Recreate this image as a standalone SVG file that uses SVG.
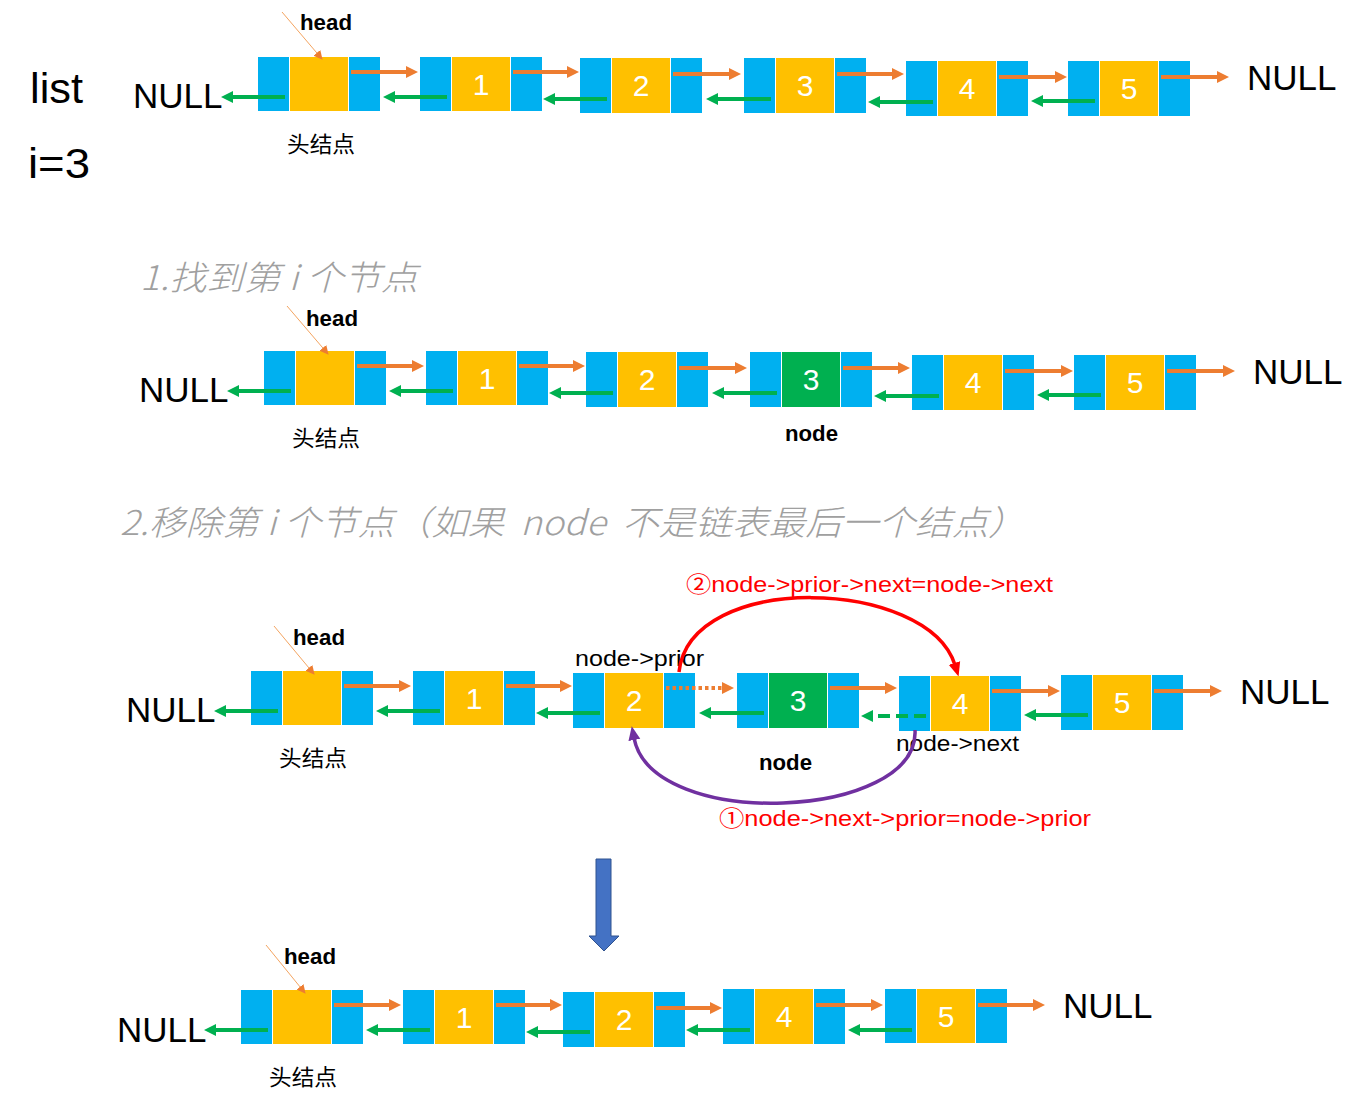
<svg xmlns="http://www.w3.org/2000/svg" width="1364" height="1106" viewBox="0 0 1364 1106">
<style>
.b{fill:#00b0f0}
.y{fill:#ffc000}
.g{fill:#00b050}
.num{font-family:"Liberation Sans","Noto Sans",sans-serif;font-size:30px;fill:#ffffff;text-anchor:middle}
.null{font-family:"Liberation Sans",sans-serif;font-size:35px;fill:#000000}
.big{font-family:"Liberation Sans",sans-serif;font-size:42px;fill:#000000}
.hd{font-family:"Liberation Sans","Noto Sans CJK SC",sans-serif;font-size:22px;font-weight:bold;fill:#000000}
.cn{font-family:"Noto Sans CJK SC",sans-serif;font-size:22px;fill:#000000}
.lbl{font-family:"Liberation Sans","Noto Sans CJK SC",sans-serif;font-size:22px;fill:#000000}
.red{font-family:"Liberation Sans","Noto Sans CJK SC",sans-serif;font-size:22px;fill:#ff0000}
.title{font-family:"Noto Sans CJK SC",sans-serif;font-size:34px;font-style:italic;font-weight:300;fill:#a0a0a0}
.ao{stroke:#ed7d31;stroke-width:4;fill:none;marker-end:url(#mo)}
.ag{stroke:#00b050;stroke-width:4;fill:none;marker-end:url(#mg)}
.hp{stroke:#f4a460;stroke-width:1;fill:none;marker-end:url(#mh)}
</style>
<defs>
<marker id="mo" markerUnits="userSpaceOnUse" markerWidth="12" markerHeight="12" refX="2" refY="6" orient="auto" viewBox="0 0 12 12"><path d="M0,0 L12,6 L0,12 z" fill="#ed7d31"/></marker>
<marker id="mg" markerUnits="userSpaceOnUse" markerWidth="12" markerHeight="12" refX="2" refY="6" orient="auto" viewBox="0 0 12 12"><path d="M0,0 L12,6 L0,12 z" fill="#00b050"/></marker>
<marker id="mh" markerUnits="userSpaceOnUse" markerWidth="9" markerHeight="9" refX="8" refY="4.5" orient="auto" viewBox="0 0 9 9"><path d="M0,0 L9,4.5 L0,9 z" fill="#ed7d31"/></marker>
<marker id="mr" markerUnits="userSpaceOnUse" markerWidth="14" markerHeight="14" refX="2" refY="7" orient="auto" viewBox="0 0 14 14"><path d="M0,1 L14,7 L0,13 z" fill="#ff0000"/></marker>
<marker id="mp" markerUnits="userSpaceOnUse" markerWidth="14" markerHeight="14" refX="2" refY="7" orient="auto" viewBox="0 0 14 14"><path d="M0,1 L14,7 L0,13 z" fill="#7030a0"/></marker>
</defs>
<rect x="0" y="0" width="1364" height="1106" fill="#ffffff"/>

<!-- left labels -->
<text class="big" x="30" y="103" textLength="53" lengthAdjust="spacingAndGlyphs">list</text>
<text class="big" x="28" y="178" textLength="62" lengthAdjust="spacingAndGlyphs">i=3</text>

<!-- titles -->
<text class="title" x="140" y="290" textLength="278" lengthAdjust="spacingAndGlyphs">1.找到第 i 个节点</text>
<text class="title" x="120" y="535" textLength="905" lengthAdjust="spacingAndGlyphs">2.移除第 i 个节点（如果&#160;&#160;node&#160;&#160;不是链表最后一个结点）</text>

<!-- ROW 1 -->
<g id="r1-head"><rect class="b" x="258" y="57" width="31" height="54"/><rect class="y" x="290" y="57" width="58" height="54"/><rect class="b" x="349" y="57" width="31" height="54"/></g>
<g id="r1-n1"><rect class="b" x="420" y="57" width="31" height="54"/><rect class="y" x="452" y="57" width="58" height="54"/><rect class="b" x="511" y="57" width="31" height="54"/><text class="num" x="481" y="95">1</text></g>
<g id="r1-n2"><rect class="b" x="580" y="58" width="31" height="55"/><rect class="y" x="612" y="58" width="58" height="55"/><rect class="b" x="671" y="58" width="31" height="55"/><text class="num" x="641" y="96">2</text></g>
<g id="r1-n3"><rect class="b" x="744" y="58" width="31" height="55"/><rect class="y" x="776" y="58" width="58" height="55"/><rect class="b" x="835" y="58" width="31" height="55"/><text class="num" x="805" y="96">3</text></g>
<g id="r1-n4"><rect class="b" x="906" y="61" width="31" height="55"/><rect class="y" x="938" y="61" width="58" height="55"/><rect class="b" x="997" y="61" width="31" height="55"/><text class="num" x="967" y="99">4</text></g>
<g id="r1-n5"><rect class="b" x="1068" y="61" width="31" height="55"/><rect class="y" x="1100" y="61" width="58" height="55"/><rect class="b" x="1159" y="61" width="31" height="55"/><text class="num" x="1129" y="99">5</text></g>
<g id="r1-labels">
<text class="null" x="133" y="108">NULL</text>
<text class="null" x="1247" y="90">NULL</text>
<text class="hd" x="300" y="30" textLength="52" lengthAdjust="spacingAndGlyphs">head</text>
<text class="cn" x="287" y="152" textLength="68" lengthAdjust="spacingAndGlyphs">头结点</text>
</g>

<!-- ROW 2 -->
<g id="r2-head"><rect class="b" x="264" y="351" width="31" height="54"/><rect class="y" x="296" y="351" width="58" height="54"/><rect class="b" x="355" y="351" width="31" height="54"/></g>
<g id="r2-n1"><rect class="b" x="426" y="351" width="31" height="54"/><rect class="y" x="458" y="351" width="58" height="54"/><rect class="b" x="517" y="351" width="31" height="54"/><text class="num" x="487" y="389">1</text></g>
<g id="r2-n2"><rect class="b" x="586" y="352" width="31" height="55"/><rect class="y" x="618" y="352" width="58" height="55"/><rect class="b" x="677" y="352" width="31" height="55"/><text class="num" x="647" y="390">2</text></g>
<g id="r2-n3"><rect class="b" x="750" y="352" width="31" height="55"/><rect class="g" x="782" y="352" width="58" height="55"/><rect class="b" x="841" y="352" width="31" height="55"/><text class="num" x="811" y="390">3</text></g>
<g id="r2-n4"><rect class="b" x="912" y="355" width="31" height="55"/><rect class="y" x="944" y="355" width="58" height="55"/><rect class="b" x="1003" y="355" width="31" height="55"/><text class="num" x="973" y="393">4</text></g>
<g id="r2-n5"><rect class="b" x="1074" y="355" width="31" height="55"/><rect class="y" x="1106" y="355" width="58" height="55"/><rect class="b" x="1165" y="355" width="31" height="55"/><text class="num" x="1135" y="393">5</text></g>
<g id="r2-labels">
<text class="null" x="139" y="402">NULL</text>
<text class="null" x="1253" y="384">NULL</text>
<text class="hd" x="306" y="326" textLength="52" lengthAdjust="spacingAndGlyphs">head</text>
<text class="cn" x="292" y="446" textLength="68" lengthAdjust="spacingAndGlyphs">头结点</text>
<text class="hd" x="785" y="441" textLength="53" lengthAdjust="spacingAndGlyphs">node</text>
</g>

<!-- ROW 3 -->
<g id="r3-head"><rect class="b" x="251" y="671" width="31" height="54"/><rect class="y" x="283" y="671" width="58" height="54"/><rect class="b" x="342" y="671" width="31" height="54"/></g>
<g id="r3-n1"><rect class="b" x="413" y="671" width="31" height="54"/><rect class="y" x="445" y="671" width="58" height="54"/><rect class="b" x="504" y="671" width="31" height="54"/><text class="num" x="474" y="709">1</text></g>
<g id="r3-n2"><rect class="b" x="573" y="673" width="31" height="55"/><rect class="y" x="605" y="673" width="58" height="55"/><rect class="b" x="664" y="673" width="31" height="55"/><text class="num" x="634" y="711">2</text></g>
<g id="r3-n3"><rect class="b" x="737" y="673" width="31" height="55"/><rect class="g" x="769" y="673" width="58" height="55"/><rect class="b" x="828" y="673" width="31" height="55"/><text class="num" x="798" y="711">3</text></g>
<g id="r3-n4"><rect class="b" x="899" y="676" width="31" height="55"/><rect class="y" x="931" y="676" width="58" height="55"/><rect class="b" x="990" y="676" width="31" height="55"/><text class="num" x="960" y="714">4</text></g>
<g id="r3-n5"><rect class="b" x="1061" y="675" width="31" height="55"/><rect class="y" x="1093" y="675" width="58" height="55"/><rect class="b" x="1152" y="675" width="31" height="55"/><text class="num" x="1122" y="713">5</text></g>
<g id="r3-labels">
<text class="null" x="126" y="722">NULL</text>
<text class="null" x="1240" y="704">NULL</text>
<text class="hd" x="293" y="645" textLength="52" lengthAdjust="spacingAndGlyphs">head</text>
<text class="cn" x="279" y="766" textLength="68" lengthAdjust="spacingAndGlyphs">头结点</text>
<text class="hd" x="759" y="770" textLength="53" lengthAdjust="spacingAndGlyphs">node</text>
<text class="lbl" x="575" y="666" textLength="129" lengthAdjust="spacingAndGlyphs">node-&gt;prior</text>
<text class="lbl" x="896" y="751" textLength="123" lengthAdjust="spacingAndGlyphs">node-&gt;next</text>
<text class="red" x="686" y="592" textLength="367" lengthAdjust="spacingAndGlyphs">②node-&gt;prior-&gt;next=node-&gt;next</text>
<text class="red" x="719" y="826" textLength="372" lengthAdjust="spacingAndGlyphs">①node-&gt;next-&gt;prior=node-&gt;prior</text>
</g>

<!-- big down arrow -->
<g id="down-arrow"><polygon points="596,859 611,859 611,936 619,936 604,951 589,936 596,936" fill="#4472c4" stroke="#2f528f" stroke-width="1"/></g>

<!-- ROW 4 -->
<g id="r4-head"><rect class="b" x="241" y="990" width="31" height="54"/><rect class="y" x="273" y="990" width="58" height="54"/><rect class="b" x="332" y="990" width="31" height="54"/></g>
<g id="r4-n1"><rect class="b" x="403" y="990" width="31" height="54"/><rect class="y" x="435" y="990" width="58" height="54"/><rect class="b" x="494" y="990" width="31" height="54"/><text class="num" x="464" y="1028">1</text></g>
<g id="r4-n2"><rect class="b" x="563" y="992" width="31" height="55"/><rect class="y" x="595" y="992" width="58" height="55"/><rect class="b" x="654" y="992" width="31" height="55"/><text class="num" x="624" y="1030">2</text></g>
<g id="r4-n4"><rect class="b" x="723" y="989" width="31" height="55"/><rect class="y" x="755" y="989" width="58" height="55"/><rect class="b" x="814" y="989" width="31" height="55"/><text class="num" x="784" y="1027">4</text></g>
<g id="r4-n5"><rect class="b" x="885" y="989" width="31" height="54"/><rect class="y" x="917" y="989" width="58" height="54"/><rect class="b" x="976" y="989" width="31" height="54"/><text class="num" x="946" y="1027">5</text></g>
<g id="r4-labels">
<text class="null" x="117" y="1042">NULL</text>
<text class="null" x="1063" y="1018">NULL</text>
<text class="hd" x="284" y="964" textLength="52" lengthAdjust="spacingAndGlyphs">head</text>
<text class="cn" x="269" y="1085" textLength="68" lengthAdjust="spacingAndGlyphs">头结点</text>
</g>

<!-- connectors -->
<g id="connectors">
<!-- head pointers -->
<line class="hp" x1="282" y1="12" x2="322" y2="59"/>
<line class="hp" x1="287" y1="306" x2="328" y2="354"/>
<line class="hp" x1="274" y1="626" x2="314" y2="674"/>
<line class="hp" x1="266" y1="945" x2="305" y2="993"/>

<!-- row 1 -->
<line class="ao" x1="351" y1="72" x2="408" y2="72"/>
<line class="ag" x1="447" y1="97" x2="393" y2="97"/>
<line class="ag" x1="285" y1="97" x2="231" y2="97"/>
<line class="ao" x1="513" y1="72" x2="569" y2="72"/>
<line class="ag" x1="607" y1="99" x2="553" y2="99"/>
<line class="ao" x1="673" y1="74" x2="731" y2="74"/>
<line class="ag" x1="771" y1="99" x2="716" y2="99"/>
<line class="ao" x1="837" y1="74" x2="894" y2="74"/>
<line class="ag" x1="933" y1="102" x2="878" y2="102"/>
<line class="ao" x1="999" y1="77" x2="1057" y2="77"/>
<line class="ag" x1="1095" y1="101" x2="1041" y2="101"/>
<line class="ao" x1="1161" y1="77" x2="1219" y2="77"/>

<!-- row 2 -->
<line class="ao" x1="357" y1="366" x2="414" y2="366"/>
<line class="ag" x1="453" y1="391" x2="399" y2="391"/>
<line class="ag" x1="291" y1="391" x2="237" y2="391"/>
<line class="ao" x1="519" y1="366" x2="575" y2="366"/>
<line class="ag" x1="613" y1="393" x2="559" y2="393"/>
<line class="ao" x1="679" y1="368" x2="737" y2="368"/>
<line class="ag" x1="777" y1="393" x2="722" y2="393"/>
<line class="ao" x1="843" y1="368" x2="900" y2="368"/>
<line class="ag" x1="939" y1="396" x2="884" y2="396"/>
<line class="ao" x1="1005" y1="371" x2="1063" y2="371"/>
<line class="ag" x1="1101" y1="395" x2="1047" y2="395"/>
<line class="ao" x1="1167" y1="371" x2="1225" y2="371"/>

<!-- row 3 -->
<line class="ao" x1="344" y1="686" x2="401" y2="686"/>
<line class="ag" x1="440" y1="711" x2="386" y2="711"/>
<line class="ag" x1="278" y1="711" x2="224" y2="711"/>
<line class="ao" x1="506" y1="686" x2="562" y2="686"/>
<line class="ag" x1="600" y1="713" x2="546" y2="713"/>
<line class="ao" x1="666" y1="688" x2="724" y2="688" stroke-dasharray="3.5 3"/>
<line class="ag" x1="764" y1="713" x2="709" y2="713"/>
<line class="ao" x1="830" y1="688" x2="887" y2="688"/>
<line class="ag" x1="926" y1="716" x2="871" y2="716" stroke-dasharray="12 6"/>
<line class="ao" x1="992" y1="691" x2="1050" y2="691"/>
<line class="ag" x1="1088" y1="715" x2="1034" y2="715"/>
<line class="ao" x1="1154" y1="691" x2="1212" y2="691"/>
<path d="M679,672 C690,570 928,578 955,665" stroke="#ff0000" stroke-width="3.5" fill="none" marker-end="url(#mr)"/>
<path d="M915,730 C920,820 652,832 634,738" stroke="#7030a0" stroke-width="3.5" fill="none" marker-end="url(#mp)"/>

<!-- row 4 -->
<line class="ao" x1="334" y1="1005" x2="391" y2="1005"/>
<line class="ag" x1="430" y1="1030" x2="376" y2="1030"/>
<line class="ag" x1="268" y1="1030" x2="214" y2="1030"/>
<line class="ao" x1="496" y1="1005" x2="552" y2="1005"/>
<line class="ag" x1="590" y1="1032" x2="536" y2="1032"/>
<line class="ao" x1="656" y1="1008" x2="712" y2="1008"/>
<line class="ag" x1="750" y1="1030" x2="696" y2="1030"/>
<line class="ao" x1="816" y1="1005" x2="873" y2="1005"/>
<line class="ag" x1="912" y1="1030" x2="858" y2="1030"/>
<line class="ao" x1="978" y1="1005" x2="1035" y2="1005"/>
</g>
</svg>
